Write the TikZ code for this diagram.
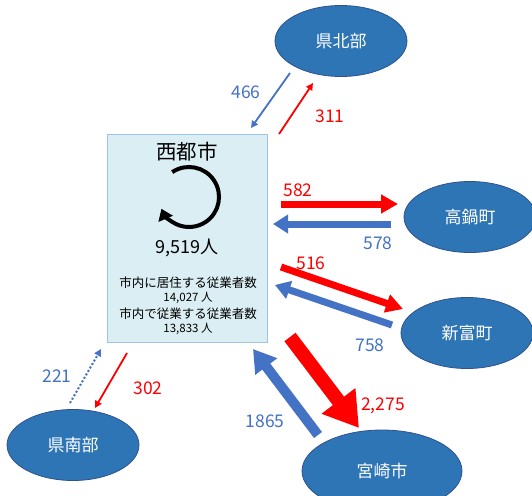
\documentclass[tikz,border=0pt]{standalone}
\usepackage{fontspec}
\setmainfont{Noto Sans CJK JP}
\usetikzlibrary{arrows.meta,shapes.geometric}
\definecolor{ellfill}{HTML}{2E75B6}
\definecolor{ellline}{HTML}{2F528F}
\definecolor{ablue}{HTML}{4472C4}
\definecolor{ared}{HTML}{FF0000}
\definecolor{boxfill}{HTML}{DAEEF3}
\definecolor{boxline}{HTML}{9DC3E6}
\tikzset{
  place/.style={ellipse,draw=ellline,line width=0.8pt,fill=ellfill,text=white,
    minimum width=132pt,minimum height=71pt,inner sep=0pt,font=\fontsize{17}{17}\selectfont},
  numlab/.style={font=\fontsize{17.5}{17.5}\selectfont,inner sep=0pt},
  bluelab/.style={numlab,text=ablue},
  redlab/.style={numlab,text=ared},
  thinarr/.style={line width=1.8pt,-{Triangle[length=7pt,width=7pt]}},
  bigarr/.style={line width=7pt,-{Triangle[length=17pt,width=18pt]}},
}
\begin{document}
\begin{tikzpicture}[x=1pt,y=-1pt]
\useasboundingbox (0,0) rectangle (532,495);
\clip (0,0) rectangle (532,495);
\fill[white] (0,0) rectangle (532,495);
% central box
\node[draw=boxline,fill=boxfill,line width=0.8pt,minimum width=160pt,minimum height=208pt,inner sep=0pt] (saito) at (187,238) {};
\node[font=\fontsize{20.5}{20.5}\selectfont,inner sep=0pt] (title) at (187,152) {西都市};
\draw[line width=4pt,-{Triangle[length=11pt,width=15pt]}] (189,197) ++(-124:30) arc[start angle=-124,end angle=157,radius=30];
\node[font=\fontsize{18}{18}\selectfont,inner sep=0pt] (total) at (187,248) {9,519人};
\node[font=\fontsize{12.5}{12.5}\selectfont,inner sep=0pt] (l1) at (188,283) {市内に居住する従業者数};
\node[font=\fontsize{11.5}{11.5}\selectfont,inner sep=0pt] (l2) at (188,298) {14,027 人};
\node[font=\fontsize{12.5}{12.5}\selectfont,inner sep=0pt] (l3) at (188,314) {市内で従業する従業者数};
\node[font=\fontsize{11.5}{11.5}\selectfont,inner sep=0pt] (l4) at (188,329) {13,833 人};
% places
\node[place] (kenpoku) at (341,41) {県北部};
\node[place] (takanabe) at (470,217) {高鍋町};
\node[place] (shintomi) at (467,333) {新富町};
\node[place,minimum width=160pt,minimum height=82pt] (miyazaki) at (382,471) {宮崎市};
\node[place] (kennan) at (73,445) {県南部};
% arrow endpoints
\coordinate (a1s) at (290,73); \coordinate (a1e) at (251,128);
\coordinate (a2s) at (279,134); \coordinate (a2e) at (313,83);
\coordinate (a3s) at (281,204); \coordinate (a3e) at (398,204);
\coordinate (a4s) at (391,224); \coordinate (a4e) at (273,224);
\coordinate (a5s) at (281,267); \coordinate (a5e) at (403,309);
\coordinate (a6s) at (392,325); \coordinate (a6e) at (275,285);
\coordinate (a7s) at (290,337); \coordinate (a7e) at (359,428);
\coordinate (a8s) at (318,435); \coordinate (a8e) at (253,349);
\coordinate (a9s) at (70,403); \coordinate (a9e) at (101,349);
\coordinate (a10s) at (127,353); \coordinate (a10e) at (95,408);
% arrows
\draw[thinarr,ablue] (a1s) -- (a1e);
\draw[thinarr,ared] (a2s) -- (a2e);
\draw[bigarr,ared] (a3s) -- (a3e);
\draw[bigarr,ablue,-{Triangle[length=15pt,width=18pt]}] (a4s) -- (a4e);
\draw[bigarr,ared] (a5s) -- (a5e);
\draw[bigarr,ablue,-{Triangle[length=15pt,width=18pt]}] (a6s) -- (a6e);
\draw[ared,line width=14pt,-{Triangle[length=34pt,width=40pt]}] (a7s) -- (a7e);
\draw[ablue,line width=10pt,-{Triangle[length=22pt,width=26pt]}] (a8s) -- (a8e);
\draw[ablue,line width=2pt,dotted,-{Triangle[length=7pt,width=7pt]}] (a9s) -- (a9e);
\draw[thinarr,ared] (a10s) -- (a10e);
% labels
\node[bluelab] (n466) at (246,92) {466};
\node[redlab] (n311) at (330,116) {311};
\node[redlab] (n582) at (298,190) {582};
\node[bluelab] (n578) at (378,243) {578};
\node[redlab] (n516) at (311,263) {516};
\node[bluelab] (n758) at (370,345) {758};
\node[redlab] (n2275) at (383,406) {2,275};
\node[bluelab] (n1865) at (265,421) {1865};
\node[bluelab] (n221) at (57,376) {221};
\node[redlab] (n302) at (148,388) {302};
\end{tikzpicture}
\end{document}
